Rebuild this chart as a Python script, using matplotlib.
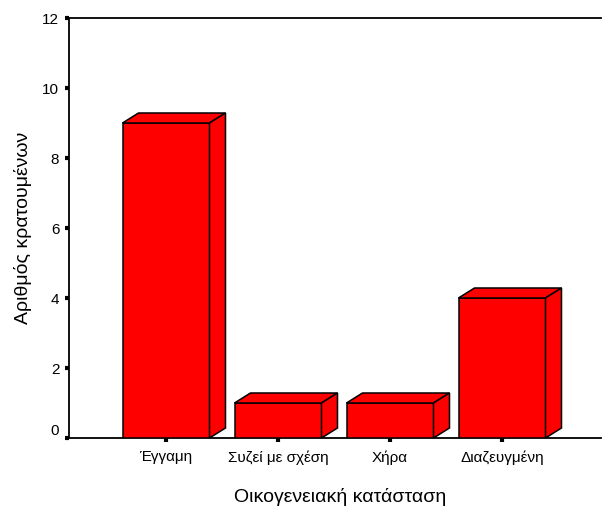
import matplotlib
matplotlib.use("Agg")
import matplotlib.pyplot as plt
from matplotlib.patches import Polygon, Rectangle

categories = ["Έγγαμη", "Συζεί με σχέση", "Χήρα", "Διαζευγμένη"]
counts = [9, 1, 1, 4]
yticks = [0, 2, 4, 6, 8, 10, 12]

plt.rcParams['font.family'] = ['Liberation Sans', 'DejaVu Sans']

W, H = 602, 511
fig = plt.figure(figsize=(W / 100, H / 100), dpi=100)
left_px, right_px, top_px, bot_px = 69, 601, 18, 438
ax = fig.add_axes([left_px / W, 1 - bot_px / H, (right_px - left_px) / W, (bot_px - top_px) / H])

px_per_unit_x = 112.0
px_per_unit_y = (bot_px - top_px) / 12.0
x0 = -(166 - left_px) / px_per_unit_x
x1 = x0 + (right_px - left_px) / px_per_unit_x
ax.set_xlim(x0, x1)
ax.set_ylim(0, 12)

bw = 87 / px_per_unit_x
ddx = 16 / px_per_unit_x
ddy = 10 / px_per_unit_y
red = "#FF0000"
lw = 1.1
for i, v in enumerate(counts):
    xl = i - bw / 2
    xr = i + bw / 2
    ax.add_patch(Rectangle((xl, 0), bw, v, facecolor=red, edgecolor="black", lw=lw, zorder=3))
    ax.add_patch(Polygon([(xl, v), (xl + ddx, v + ddy), (xr + ddx, v + ddy), (xr, v)],
                         closed=True, facecolor=red, edgecolor="black", lw=lw, zorder=3))
    ax.add_patch(Polygon([(xr, 0), (xr + ddx, ddy), (xr + ddx, v + ddy), (xr, v)],
                         closed=True, facecolor=red, edgecolor="black", lw=lw, zorder=3))

ax.set_xticks(range(len(categories)))
ax.set_xticklabels(categories, fontsize=11)
ax.set_yticks(yticks)
ax.set_yticklabels([str(t) for t in yticks], fontsize=11)
ax.tick_params(axis='both', direction='out', length=3, width=3, color='black')
ax.tick_params(axis='y', pad=4)
ax.tick_params(axis='x', pad=6)
# lift the "0" label a little, as in the reference
for lab in ax.get_yticklabels():
    if lab.get_text() == "0":
        lab.set_va('bottom')

for side in ['left', 'bottom', 'top']:
    ax.spines[side].set_linewidth(1.3)
ax.spines['right'].set_visible(False)

ax.set_ylabel("Αριθμός κρατουμένων", fontsize=14, va='center')
ax.yaxis.set_label_coords(-0.086, 0.5)
ax.set_xlabel("Οικογενειακή κατάσταση", fontsize=14, va='center')
ax.xaxis.set_label_coords(0.51, -0.14)

fig.savefig("out.png", dpi=100)
